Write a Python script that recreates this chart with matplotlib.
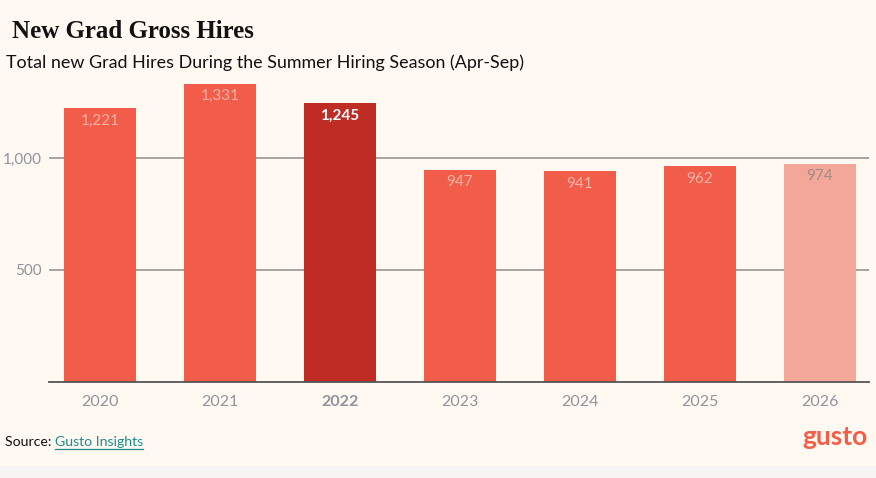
import matplotlib
matplotlib.use("Agg")
import matplotlib.pyplot as plt
from matplotlib.patches import Rectangle

years = ["2020", "2021", "2022", "2023", "2024", "2025", "2026"]
hires = [1221, 1331, 1245, 947, 941, 962, 974]
value_labels = ["1,221", "1,331", "1,245", "947", "941", "962", "974"]
yticks = [500, 1000]
ytick_labels = ["500", "1,000"]

bg = "#FFF9F2"
base_col = "#F25D4A"
hi_col = "#BF2C24"
proj_col = "#F3A799"
colors = [base_col, base_col, hi_col, base_col, base_col, base_col, proj_col]

W, H = 876, 478
fig = plt.figure(figsize=(W / 100, H / 100), dpi=100, facecolor=bg)
fig.patches.append(Rectangle((0, 0), 1, 12 / H, transform=fig.transFigure,
                             facecolor="#F6F5F3", edgecolor="none", zorder=0))

ax_l, ax_r = 49, 869
ax_b, ax_t = 382, 80
ax = fig.add_axes([ax_l / W, 1 - ax_b / H, (ax_r - ax_l) / W, (ax_b - ax_t) / H])
ax.set_facecolor(bg)

x = list(range(len(years)))
ax.bar(x, hires, width=0.6, color=colors, zorder=3)
ax.set_xlim(-0.425, 6.408)
ax.set_ylim(0, 1348)

for spine in ["top", "right", "left"]:
    ax.spines[spine].set_visible(False)
ax.spines["bottom"].set_color("#555555")
ax.spines["bottom"].set_linewidth(1.3)
ax.spines["bottom"].set_zorder(4)

ax.set_yticks(yticks)
ax.set_yticklabels(ytick_labels)
ax.yaxis.grid(True, color="#9A958F", linewidth=1.2, zorder=1)
ax.tick_params(axis="y", length=0, pad=5, labelsize=11, labelcolor="#8E939C")
ax.tick_params(axis="x", length=0, pad=9, labelsize=11.5, labelcolor="#8E939C")
ax.set_xticks(x)
ax.set_xticklabels(years)
for lab in ax.get_xticklabels():
    lab.set_fontfamily("Lato")
    if lab.get_text() == "2022":
        lab.set_fontweight("bold")
for lab in ax.get_yticklabels():
    lab.set_fontfamily("Lato")

for i, (v, s) in enumerate(zip(hires, value_labels)):
    if i == 2:
        c, w = "white", "bold"
    elif i == 6:
        c, w = "#A08C88", "normal"
    else:
        c, w = "#F8B1A6", "normal"
    ax.annotate(s, (i, v), xytext=(0, -4), textcoords="offset points",
                ha="center", va="top", fontsize=11, color=c, fontweight=w,
                family="Lato", zorder=5)

fig.text(12 / W, 1 - 31 / H, "New Grad Gross Hires", family="Liberation Serif",
         fontsize=18, fontweight="bold", color="#111111", va="center", ha="left")
fig.text(6 / W, 1 - 63 / H, "Total new Grad Hires During the Summer Hiring Season (Apr-Sep)",
         family="Lato", fontsize=12.9, color="#111111", va="center", ha="left")

t1 = fig.text(5 / W, 1 - 442 / H, "Source: ", family="Lato", fontsize=10.2,
              color="#111111", va="center", ha="left")
fig.canvas.draw()
bb = t1.get_window_extent()
t2 = fig.text(bb.x1 / W, 1 - 442 / H, "Gusto Insights", family="Lato", fontsize=10.2,
              color="#1C8C8C", va="center", ha="left")
fig.canvas.draw()
bb2 = t2.get_window_extent()
fig.add_artist(plt.Line2D([bb2.x0 / W, bb2.x1 / W], [(bb2.y0 - 1) / H] * 2,
                          transform=fig.transFigure, color="#1C8C8C", linewidth=0.9))

fig.text(868 / W, 1 - 437 / H, "gusto", family="Lato", fontsize=19, fontweight="bold",
         color="#F45D48", va="center", ha="right")

fig.savefig("out.png", dpi=100, facecolor=bg)
